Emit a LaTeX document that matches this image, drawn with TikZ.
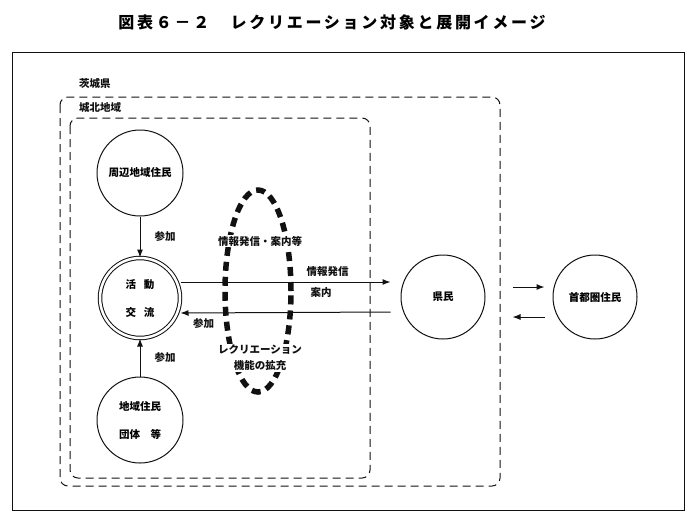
\documentclass[tikz,border=0pt]{standalone}
\usepackage{fontspec}
\setmainfont{Noto Sans CJK JP}
\usetikzlibrary{shapes.geometric,arrows.meta,positioning}
\definecolor{ink}{HTML}{111111}
\tikzset{
  person/.style={circle, draw=ink, line width=1pt, minimum size=86pt, inner sep=0pt, align=center, font=\fontsize{10.5pt}{28pt}\selectfont\bfseries},
  flow/.style={draw=ink, line width=1pt, -{Latex[length=8pt,width=6pt]}},
  area/.style={draw=ink, line width=1pt, dash pattern=on 8pt off 5pt, rounded corners=8pt},
  lbl/.style={text=ink, inner sep=0pt, align=center, font=\fontsize{10.5pt}{16pt}\selectfont\bfseries}
}

\begin{document}
\begin{tikzpicture}[x=1pt,y=-1pt]
\useasboundingbox (0,0) rectangle (700,523);
% title
\node[font=\fontsize{16pt}{18pt}\selectfont\bfseries\addfontfeature{LetterSpace=17}] (title) at (332,22) {図表６－２　レクリエーション対象と展開イメージ};
% frames
\draw[ink, line width=1pt] (12,52) rectangle (684,510);
\draw[area] (60,97) rectangle (500,486);
\draw[area] (70,118) rectangle (370,478);
\node[lbl, anchor=west] (ibaraki) at (79,83) {茨城県};
\node[lbl, anchor=west] (johoku) at (79,107) {城北地域};
% enhancement ring
\node[ellipse, draw=ink, line width=5.5pt, dash pattern=on 9pt off 6pt, minimum width=66pt, minimum height=202pt, inner sep=0pt] (kakuju) at (258,291) {};
\node[lbl, fill=white, inner sep=1pt] (joho) at (260,241) {情報発信・案内等};
\node[lbl, fill=white, inner sep=1pt] (kino) at (260,358) {レクリエーション\\機能の拡充};
% residents
\node[person] (shuhen) at (140,173) {周辺地域住民};
\node[person, double, double distance=2.5pt, minimum size=80pt] (katsudo) at (140,298) {活\hspace{8pt}動\\交\hspace{8pt}流};
\node[person] (chiiki) at (140,420) {地域住民\\団体　等};
\node[person, minimum size=84pt] (kenmin) at (443,297) {県民};
\node[person, minimum size=84pt] (shuto) at (595,297) {首都圏住民};
% flows
\draw[flow] (shuhen) -- (katsudo) node[lbl, midway, right=14pt] (sanka1) {参加};
\draw[flow] (chiiki) -- (katsudo) node[lbl, midway, right=14pt] (sanka2) {参加};
\draw[flow] ([yshift=16pt]katsudo.east) -- ([yshift=15pt,xshift=-10pt]kenmin.west)
  node[lbl, pos=0.7, above=5pt] (hasshin) {情報発信}
  node[lbl, pos=0.67, below=5pt] (annai) {案内};
\draw[flow] ([yshift=-15pt,xshift=-10pt]kenmin.west) -- ([yshift=-15pt]katsudo.east)
  node[lbl, pos=0.89, below=5pt] (sanka3) {参加};
\draw[flow] ([yshift=10pt,xshift=27pt]kenmin.east) -- ([yshift=10pt,xshift=-8pt]shuto.west);
\draw[flow] ([yshift=-20pt,xshift=-8pt]shuto.west) -- ([yshift=-20pt,xshift=27pt]kenmin.east);
\end{tikzpicture}
\end{document}
